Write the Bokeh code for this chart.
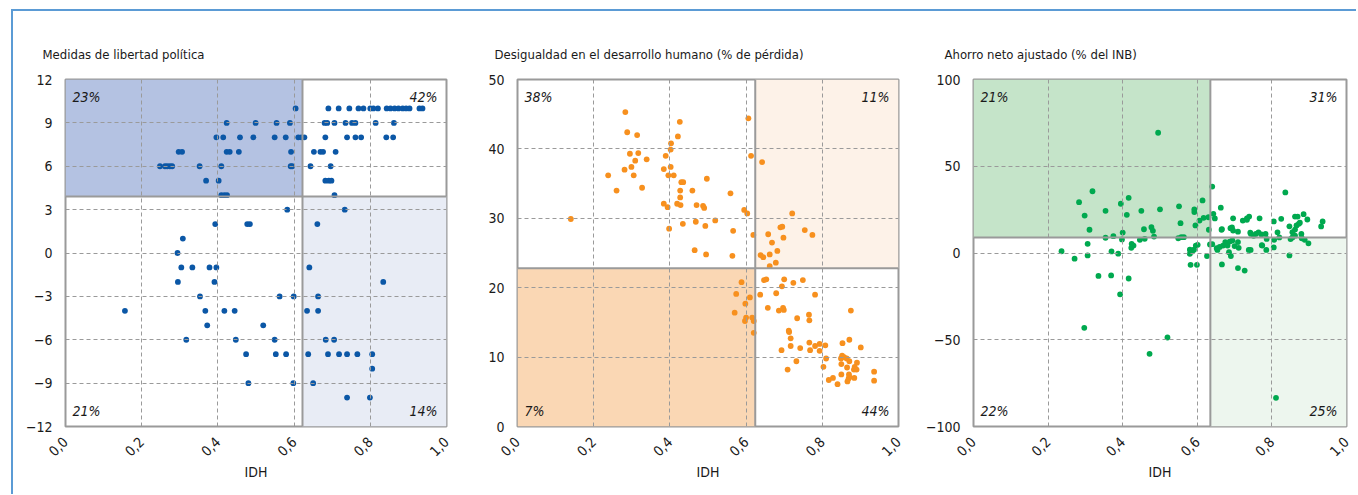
import math
from bokeh.plotting import figure
from bokeh.layouts import row
from bokeh.models import FixedTicker, CustomJSTickFormatter, Span, Label
from bokeh.embed import file_html
from bokeh.resources import INLINE

FONT = "DejaVu Sans Condensed"
FS = "13px"
FS_TICK = "14px"

# ---------------- data ----------------
idh_ticks = [0.0, 0.2, 0.4, 0.6, 0.8, 1.0]
x_label = "IDH"

# Panel 1: political freedom
p1_title = "Medidas de libertad política"
p1_x = [0.604, 0.690, 0.717, 0.745, 0.769, 0.782, 0.800, 0.808, 0.820, 0.843, 0.853, 0.864, 0.874, 0.885, 0.894, 0.903, 0.929, 0.937,
        0.423, 0.499, 0.554, 0.589, 0.680, 0.687, 0.706, 0.735, 0.752, 0.761, 0.814, 0.862,
        0.396, 0.414, 0.458, 0.493, 0.549, 0.578, 0.611, 0.619, 0.627, 0.682, 0.739, 0.761, 0.776, 0.842, 0.860,
        0.297, 0.306, 0.423, 0.431, 0.455, 0.592, 0.652, 0.669, 0.676, 0.709,
        0.248, 0.261, 0.267, 0.274, 0.280, 0.352, 0.409, 0.591, 0.595, 0.643, 0.696,
        0.369, 0.402, 0.682, 0.691, 0.698,
        0.409, 0.417, 0.424, 0.706,
        0.582, 0.733,
        0.393, 0.477, 0.484, 0.661,
        0.308,
        0.294,
        0.304, 0.333, 0.378, 0.396, 0.640,
        0.295, 0.391, 0.834,
        0.353, 0.562, 0.599, 0.663,
        0.156, 0.367, 0.417, 0.444, 0.634, 0.663,
        0.372, 0.519,
        0.317, 0.447, 0.549, 0.683, 0.705,
        0.474, 0.552, 0.579, 0.637, 0.689, 0.718, 0.739, 0.766, 0.805,
        0.805,
        0.480, 0.598, 0.650,
        0.739, 0.799]
p1_y = [10] * 18 + [9] * 12 + [8] * 15 + [7] * 10 + [6] * 11 + [5] * 5 + [4] * 4 + [3] * 2 + [2] * 4 + [1] + [0] \
    + [-1] * 5 + [-2] * 3 + [-3] * 4 + [-4] * 6 + [-5] * 2 + [-6] * 5 + [-7] * 9 + [-8] + [-9] * 3 + [-10] * 2
p1_thresholds = [0.622, 3.9]
p1_yrange = [-12, 12]
p1_yticks = [-12, -9, -6, -3, 0, 3, 6, 9, 12]
p1_pcts = ["23%", "42%", "21%", "14%"]   # top-left, top-right, bottom-left, bottom-right

# Panel 2: inequality
p2_title = "Desigualdad en el desarrollo humano (% de pérdida)"
p2_x = [0.283, 0.426, 0.606, 0.288, 0.314, 0.421, 0.403, 0.402, 0.295, 0.317, 0.389, 0.613, 0.309, 0.339, 0.642,
        0.281, 0.299, 0.384, 0.402, 0.238, 0.305, 0.396, 0.410, 0.497, 0.430, 0.435, 0.260, 0.327, 0.427, 0.459,
        0.559, 0.427, 0.384, 0.394, 0.419, 0.428, 0.470, 0.487, 0.490, 0.595, 0.603, 0.721, 0.140, 0.519, 0.468,
        0.434, 0.493, 0.690, 0.695, 0.398, 0.566, 0.754, 0.619, 0.658, 0.774, 0.698, 0.668, 0.465, 0.495, 0.564,
        0.682, 0.662, 0.638, 0.645, 0.678, 0.662, 0.647, 0.653, 0.700, 0.724, 0.749, 0.588, 0.694, 0.574, 0.610,
        0.637, 0.679, 0.781, 0.598, 0.657, 0.686, 0.697, 0.699, 0.875, 0.570, 0.765, 0.734, 0.766, 0.600, 0.597,
        0.616, 0.620, 0.620, 0.712, 0.713, 0.717, 0.871, 0.766, 0.853, 0.808, 0.793, 0.781, 0.717, 0.742, 0.901,
        0.768, 0.693, 0.793, 0.852, 0.849, 0.857, 0.810, 0.864, 0.871, 0.732, 0.850, 0.891, 0.865, 0.803, 0.885,
        0.883, 0.890, 0.709, 0.936, 0.850, 0.870, 0.871, 0.817, 0.828, 0.866, 0.869, 0.884, 0.840, 0.936]
p2_y = [45.3, 43.9, 44.4, 42.4, 42.0, 41.8, 40.8, 39.9, 39.3, 39.4, 39.0, 39.0, 38.3, 38.5, 38.1,
        37.0, 37.4, 37.1, 37.4, 36.2, 36.2, 36.2, 36.2, 35.7, 35.2, 35.2, 34.0, 34.4, 34.0, 34.0,
        33.6, 33.0, 32.1, 31.6, 32.1, 31.9, 31.9, 31.8, 31.5, 31.2, 30.7, 30.7, 29.9, 29.7, 29.5,
        29.2, 28.9, 28.7, 28.8, 28.5, 28.2, 28.3, 27.6, 27.7, 27.6, 27.2, 26.5, 25.4, 24.8, 24.6,
        25.3, 24.8, 24.7, 24.4, 23.6, 23.1, 21.1, 21.2, 21.2, 20.7, 21.1, 20.8, 20.2, 19.1, 18.6,
        19.0, 19.2, 19.0, 17.7, 17.1, 16.7, 17.1, 16.8, 16.7, 16.4, 16.1, 15.6, 15.3, 15.7, 15.2,
        15.7, 15.2, 13.5, 13.8, 13.6, 12.7, 12.5, 12.1, 12.0, 11.7, 11.9, 11.6, 11.6, 11.3, 11.4,
        11.0, 11.0, 10.9, 10.2, 9.8, 10.0, 9.8, 9.8, 9.4, 9.4, 9.0, 9.2, 8.5, 8.6, 8.6,
        8.2, 8.2, 8.2, 7.9, 7.5, 7.5, 7.1, 6.7, 7.0, 6.5, 6.9, 7.0, 6.1, 6.6]
p2_thresholds = [0.624, 22.8]
p2_yrange = [0, 50]
p2_yticks = [0, 10, 20, 30, 40, 50]
p2_pcts = ["38%", "11%", "7%", "44%"]

# Panel 3: adjusted net savings
p3_title = "Ahorro neto ajustado (% del INB)"
p3_x = [0.495, 0.319, 0.283, 0.416, 0.395, 0.298, 0.354, 0.411, 0.450, 0.500, 0.551, 0.592, 0.592, 0.614, 0.606,
        0.617, 0.630, 0.555, 0.595, 0.311, 0.457, 0.477, 0.481, 0.484, 0.400, 0.375, 0.557, 0.564, 0.631,
        0.640, 0.836, 0.663, 0.643, 0.647, 0.665, 0.696, 0.722, 0.733, 0.739, 0.767, 0.805, 0.825, 0.862, 0.869,
        0.885, 0.895, 0.936, 0.932, 0.847, 0.866, 0.872, 0.689, 0.696, 0.709, 0.744, 0.757, 0.764, 0.783, 0.815,
        0.879, 0.742, 0.772, 0.666, 0.693, 0.733, 0.875, 0.862, 0.855, 0.751,
        0.354, 0.398, 0.424, 0.429, 0.423, 0.446, 0.459, 0.549, 0.306, 0.601, 0.596, 0.236, 0.271, 0.306, 0.370,
        0.388, 0.580, 0.586, 0.591, 0.580, 0.626, 0.582, 0.599, 0.335, 0.369, 0.416, 0.393, 0.297, 0.520, 0.472,
        0.634,
        0.811, 0.888, 0.898, 0.786, 0.773, 0.806, 0.805, 0.847, 0.654, 0.652, 0.669, 0.675, 0.681, 0.687, 0.694,
        0.685, 0.690, 0.666, 0.709, 0.711, 0.738, 0.743, 0.774, 0.709, 0.727, 0.785, 0.850, 0.862, 0.855, 0.880,
        0.640, 0.660, 0.700, 0.820]
p3_y = [69.3, 35.6, 29.3, 31.8, 28.4, 21.6, 24.3, 22.0, 24.3, 25.2, 26.9, 25.1, 23.6, 30.3, 18.7,
        20.3, 20.6, 17.2, 15.9, 13.4, 13.7, 14.9, 12.8, 9.5, 11.8, 9.7, 9.1, 9.1, 13.4,
        38.3, 34.9, 26.1, 22.6, 19.9, 13.4, 20.0, 18.7, 19.9, 21.0, 20.0, 18.2, 19.7, 21.0, 21.0,
        22.4, 19.3, 18.2, 15.3, 15.4, 15.9, 16.8, 14.3, 12.9, 12.3, 11.0, 11.0, 11.9, 11.0, 11.9,
        11.0, 11.7, 10.7, 13.8, 14.7, 19.1, 17.5, 13.5, 12.0, 9.9,
        8.8, 7.8, 5.3, 4.3, 3.0, 7.6, 8.2, 8.5, 5.3, 4.7, 4.3, 1.0, -3.3, -1.4, 0.9,
        -0.4, 1.9, 0.9, 1.9, -0.5, -1.8, -6.8, -6.8, -13.2, -12.9, -14.7, -23.8, -43.1, -48.7, -58.1,
        4.9,
        -83.5, 7.6, 5.6, 8.1, 4.5, 7.6, 3.2, -1.4, 1.8, 2.8, 4.3, 6.3, 4.3, 6.6, 7.2,
        0.5, -1.8, -6.6, 6.3, 3.0, 1.8, 1.8, 4.3, -8.7, -10.1, 1.8, 8.0, 10.0, 9.0, 8.5,
        5.1, 3.5, 4.0, 9.0]
p3_thresholds = [0.635, 9.0]
p3_yrange = [-100, 100]
p3_yticks = [-100, -50, 0, 50, 100]
p3_pcts = ["21%", "31%", "22%", "25%"]

# ---------------- styles ----------------
GRID = "#9a9a9a"
FRAME = "#9a9a9a"
TEXT = "#1a1a1a"

yfmt_code = "return tick < 0 ? '\\u2212' + Math.abs(tick) : '' + tick;"
xfmt_code = "return tick.toFixed(1).replace('.', ',');"


def make_panel(title, xs, ys, thr, yrange, yticks, pcts, dot, dark, light, dark_quad, border_left, border_right, title_offset):
    p = figure(width=border_left + 381 + border_right, height=68 + 347 + 68,
               x_range=(0, 1), y_range=tuple(yrange),
               min_border_left=border_left, min_border_right=border_right,
               min_border_top=68, min_border_bottom=68,
               output_backend="svg", toolbar_location=None, title=title)
    p.title.text_font = FONT
    p.title.text_font_size = FS
    p.title.text_font_style = "normal"
    p.title.text_color = TEXT
    p.title.align = "left"
    p.title.offset = title_offset
    p.title.standoff = 36

    xt, yt = thr
    x0, x1 = 0, 1
    y0, y1 = yrange
    if dark_quad == "tl":
        p.quad(left=[x0], right=[xt], bottom=[yt], top=[y1], fill_color=dark, line_color=None)
        p.quad(left=[xt], right=[x1], bottom=[y0], top=[yt], fill_color=light, line_color=None)
    else:
        p.quad(left=[x0], right=[xt], bottom=[y0], top=[yt], fill_color=dark, line_color=None)
        p.quad(left=[xt], right=[x1], bottom=[yt], top=[y1], fill_color=light, line_color=None)

    p.xgrid.ticker = FixedTicker(ticks=[t for t in idh_ticks if 0 < t < 1])
    p.ygrid.ticker = FixedTicker(ticks=[t for t in yticks if y0 < t < y1])
    for g in (p.xgrid, p.ygrid):
        g.grid_line_color = GRID
        g.grid_line_dash = "4 3"
        g.grid_line_width = 1
        g.level = "glyph"

    p.add_layout(Span(location=xt, dimension="height", line_color=FRAME, line_width=2))
    p.add_layout(Span(location=yt, dimension="width", line_color=FRAME, line_width=2))

    p.scatter(xs, ys, size=5.8, color=dot, line_color=None)

    p.outline_line_color = FRAME
    p.outline_line_width = 2
    p.outline_line_alpha = 1
    p.background_fill_color = "white"
    p.border_fill_color = "white"

    p.xaxis.ticker = FixedTicker(ticks=idh_ticks)
    p.yaxis.ticker = FixedTicker(ticks=yticks)
    p.xaxis.formatter = CustomJSTickFormatter(code=xfmt_code)
    p.yaxis.formatter = CustomJSTickFormatter(code=yfmt_code)
    p.xaxis.major_label_orientation = math.pi / 4
    for ax in (p.xaxis[0], p.yaxis[0]):
        ax.axis_line_color = None
        ax.major_tick_line_color = None
        ax.minor_tick_line_color = None
        ax.major_label_text_font = FONT
        ax.major_label_text_font_size = FS_TICK
        ax.major_label_text_color = TEXT
        ax.major_label_standoff = 7
    p.xaxis.axis_label = x_label
    p.xaxis.axis_label_text_font = FONT
    p.xaxis.axis_label_text_font_size = FS_TICK
    p.xaxis.axis_label_text_font_style = "normal"
    p.xaxis.axis_label_text_color = TEXT
    p.xaxis.axis_label_standoff = 0

    tl, tr, bl, br = pcts
    common = dict(text_font=FONT, text_font_size="14px", text_font_style="italic", text_color=TEXT)
    p.add_layout(Label(x=x0, y=y1, x_offset=7, y_offset=-9, text=tl, text_align="left", text_baseline="top", **common))
    p.add_layout(Label(x=x1, y=y1, x_offset=-9, y_offset=-9, text=tr, text_align="right", text_baseline="top", **common))
    p.add_layout(Label(x=x0, y=y0, x_offset=7, y_offset=8, text=bl, text_align="left", text_baseline="bottom", **common))
    p.add_layout(Label(x=x1, y=y0, x_offset=-9, y_offset=8, text=br, text_align="right", text_baseline="bottom", **common))
    return p


p1 = make_panel(p1_title, p1_x, p1_y, p1_thresholds, p1_yrange, p1_yticks, p1_pcts,
                "#0b57a6", "#b4c2e2", "#e8ecf5", "tl", 52, 24, -23)
p2 = make_panel(p2_title, p2_x, p2_y, p2_thresholds, p2_yrange, p2_yticks, p2_pcts,
                "#f7901e", "#fad7b4", "#fdf2e8", "bl", 47, 24, -23)
p3 = make_panel(p3_title, p3_x, p3_y, p3_thresholds, p3_yrange, p3_yticks, p3_pcts,
                "#00a94f", "#c5e4c9", "#edf6ee", "tl", 43, 10, -29)

layout = row(p1, p2, p3, styles={"border-top": "2px solid #5b9bd5", "border-left": "2px solid #5b9bd5",
                                  "margin-left": "11px", "margin-top": "9px"})

open("out.html", "w").write(file_html(layout, INLINE))
